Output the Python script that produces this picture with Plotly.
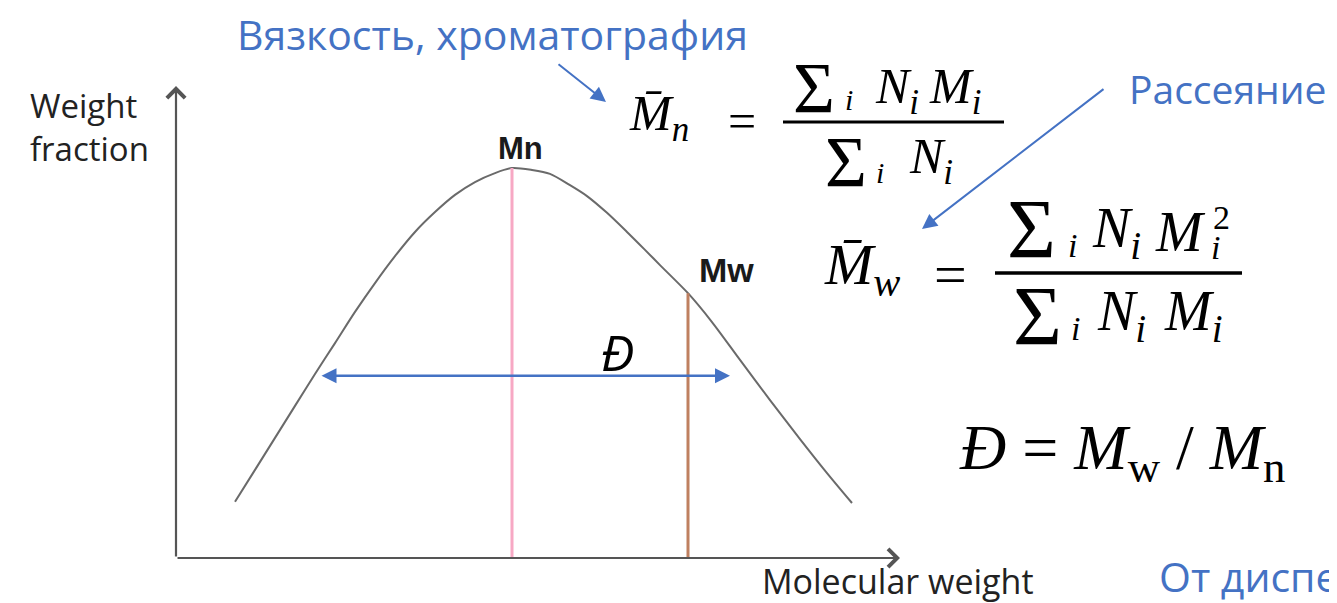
import plotly.graph_objs as go

# weight distribution curve (molecular weight in arbitrary units, weight fraction normalised to peak)
mol_weight = [0.59, 0.79, 0.99, 1.19, 1.39, 1.59, 1.79, 1.99, 2.19, 2.39, 2.59, 2.79, 2.99, 3.19, 3.36,
              3.56, 3.74, 3.94, 4.11, 4.31, 4.51, 4.69, 4.84, 5.12, 5.36, 5.64, 5.94, 6.24, 6.50, 6.76]
weight_frac = [0.144, 0.226, 0.308, 0.390, 0.472, 0.551, 0.631, 0.705, 0.774, 0.836, 0.887, 0.931,
               0.964, 0.987, 1.0,
               0.995, 0.985, 0.956, 0.928, 0.885, 0.836, 0.790, 0.751, 0.679, 0.605, 0.508, 0.405,
               0.305, 0.221, 0.141]

mn_x, mn_y = 3.36, 1.0
mw_x, mw_y = 5.12, 0.679
disp_left, disp_right, disp_y = 1.44, 5.54, 0.467
x_axis_end, y_axis_end = 7.24, 1.21

W, H = 1337, 603
OFF = 8  # page body margin
BLUE = '#4472C4'
SERIF = 'Liberation Serif'


def px(x):
    return (x - OFF) / W


def py(y):
    return 1 - (y - OFF) / H


fig = go.Figure()

fig.add_trace(go.Scatter(
    x=mol_weight, y=weight_frac, mode='lines',
    line=dict(color='#6a6a6a', width=2, shape='spline', smoothing=0.8),
    hoverinfo='skip'
))
fig.add_trace(go.Scatter(
    x=[mn_x, mn_x], y=[0, mn_y], mode='lines',
    line=dict(color='#f7a8c4', width=3), hoverinfo='skip'
))
fig.add_trace(go.Scatter(
    x=[mw_x, mw_x], y=[0, mw_y], mode='lines',
    line=dict(color='#bf8060', width=3), hoverinfo='skip'
))

ann = []
# axes with open arrow heads
for (xe, ye) in [(x_axis_end, 0), (0, y_axis_end)]:
    ann.append(dict(x=xe, y=ye, ax=0, ay=0, xref='x', yref='y', axref='x', ayref='y',
                    text='', showarrow=True, arrowhead=4, arrowsize=1.6,
                    arrowwidth=2.2, arrowcolor='#555555'))
# dispersity double arrow
ann.append(dict(x=disp_right, y=disp_y, ax=disp_left, ay=disp_y, xref='x', yref='y',
                axref='x', ayref='y', text='', showarrow=True, arrowhead=2,
                startarrowhead=2, arrowside='end+start', arrowsize=1.2,
                startarrowsize=1.2, arrowwidth=2.5, arrowcolor=BLUE))

# pointer arrows from the blue captions (tail, head in pixels)
for tail, head in [((557, 63), (606, 102)), ((1105, 88), (922, 229))]:
    ann.append(dict(x=px(head[0]), y=py(head[1]), ax=tail[0] - head[0], ay=tail[1] - head[1],
                    xref='paper', yref='paper', axref='pixel', ayref='pixel',
                    text='', showarrow=True, arrowhead=2, arrowsize=1.5,
                    arrowwidth=2, arrowcolor=BLUE))


def label(x, y, text, size, color='#000000', family=SERIF, xanchor='center', align='center'):
    ann.append(dict(x=px(x), y=py(y), xref='paper', yref='paper', text=text,
                    showarrow=False, xanchor=xanchor, yanchor='middle', align=align,
                    font=dict(family=family, size=size, color=color)))


SANS = 'Open Sans'
label(28, 127, 'Weight<br>fraction', 33, color='#222222', family=SANS, xanchor='left', align='left')
label(760, 581, 'Molecular weight', 34, color='#222222', family=SANS, xanchor='left')
label(520, 149, '<b>Mn</b>', 31, color='#1a1a1a', family='Liberation Sans')
label(726, 270, '<b>Mw</b>', 34, color='#1a1a1a', family='Liberation Sans')
label(617, 352, '<i>Đ</i>', 50, family=SANS)

label(492, 34, 'Вязкость, хроматография', 41, color=BLUE, family=SANS)
label(1127, 88, 'Рассеяние', 39, color=BLUE, family=SANS, xanchor='left')
label(1157, 576, 'От диспе', 41, color=BLUE, family=SANS, xanchor='left')

# Mn formula
label(627, 117, '<i>M̄</i><sub><i>n</i></sub>', 50, xanchor='left')
label(742, 121, '=', 50)
label(814, 88, 'Σ', 72)
label(849, 100, '<i>i</i>', 30)
label(873, 90, '<i>N</i><sub><i>i</i></sub>', 50, xanchor='left')
label(927, 90, '<i>M</i><sub><i>i</i></sub>', 50, xanchor='left')
label(846, 162, 'Σ', 72)
label(880, 173, '<i>i</i>', 30)
label(907, 160, '<i>N</i><sub><i>i</i></sub>', 50, xanchor='left')

# Mw formula
label(822, 268, '<i>M̄</i><sub><i>w</i></sub>', 58, xanchor='left')
label(950, 274, '=', 58)
label(1031, 229, 'Σ', 84)
label(1072, 245, '<i>i</i>', 34)
label(1090, 232, '<i>N</i><sub><i>i</i></sub>', 56, xanchor='left')
label(1153, 232, '<i>M</i>', 56, xanchor='left')
label(1215, 248, '<i>i</i>', 34)
label(1221, 218, '2', 34)
label(1037, 316, 'Σ', 84)
label(1075, 328, '<i>i</i>', 34)
label(1095, 315, '<i>N</i><sub><i>i</i></sub>', 56, xanchor='left')
label(1162, 315, '<i>M</i><sub><i>i</i></sub>', 56, xanchor='left')

# dispersity formula
label(1122, 452, '<i>Đ</i> = <i>M</i><sub>w</sub> / <i>M</i><sub>n</sub>', 64)

shapes = [
    dict(type='line', xref='paper', yref='paper', x0=px(783), x1=px(1004), y0=py(122), y1=py(122),
         line=dict(color='#000', width=3)),
    dict(type='line', xref='paper', yref='paper', x0=px(995), x1=px(1242), y0=py(273), y1=py(273),
         line=dict(color='#000', width=3.5)),
]

# data ranges chosen so the chart origin sits where the reference draws it
fig.update_layout(
    width=W, height=H,
    margin=dict(l=0, r=0, t=0, b=0),
    paper_bgcolor='white', plot_bgcolor='white',
    showlegend=False,
    xaxis=dict(range=[(OFF - 176) / 100, (W + OFF - 176) / 100], visible=False, fixedrange=True),
    yaxis=dict(range=[(558 - H - OFF) / 390, (558 - OFF) / 390], visible=False, fixedrange=True),
    annotations=ann,
    shapes=shapes,
)

fig.write_html("out.html")
